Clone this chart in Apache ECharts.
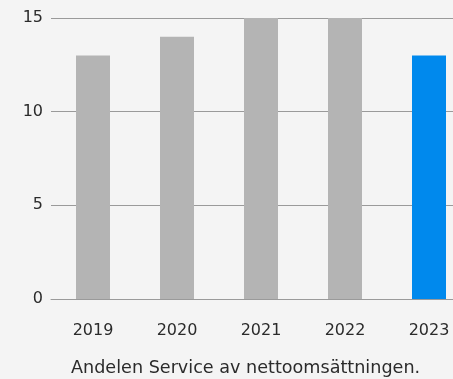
<!DOCTYPE html>
<html>
<head>
<meta charset="utf-8">
<style>
  html, body { margin: 0; padding: 0; background: #f4f4f4; }
  #chart { width: 453px; height: 379px; }
</style>
<script src="https://cdn.jsdelivr.net/npm/echarts@6/dist/echarts.min.js"></script>
</head>
<body>
<div id="chart"></div>
<script>
// Service share of net sales, per year (percent)
const years = ['2019', '2020', '2021', '2022', '2023'];
const shares = [13, 14, 15, 15, 13];
const yTicks = [0, 5, 10, 15];
const caption = 'Andelen Service av nettoomsättningen.';

const grey = '#b4b4b4';
const blue = '#0089ed';
const textColor = '#2b2b2b';
const font = '"DejaVu Sans", sans-serif';

const chart = echarts.init(document.getElementById('chart'), null, { renderer: 'canvas' });

chart.setOption({
  backgroundColor: '#f4f4f4',
  animation: false,
  grid: { left: 51, top: 18, right: -18, bottom: 80, outerBoundsMode: 'none', containLabel: false },
  title: {
    text: caption,
    left: 66,
    bottom: -3,
    textStyle: { fontFamily: font, fontSize: 17.6, fontWeight: 'normal', color: textColor }
  },
  xAxis: {
    type: 'category',
    data: years,
    axisTick: { show: false },
    axisLine: { lineStyle: { color: '#9a9a9a', width: 1 } },
    axisLabel: { color: textColor, fontFamily: font, fontSize: 16, margin: 24 }
  },
  yAxis: {
    type: 'value',
    min: yTicks[0],
    max: yTicks[yTicks.length - 1],
    interval: yTicks[1] - yTicks[0],
    axisLine: { show: false },
    axisTick: { show: false },
    splitLine: { lineStyle: { color: '#9a9a9a', width: 1 } },
    axisLabel: { color: textColor, fontFamily: font, fontSize: 16, margin: 8 }
  },
  series: [{
    type: 'bar',
    data: shares.map((v, i) => ({
      value: v,
      itemStyle: { color: i === shares.length - 1 ? blue : grey }
    })),
    barWidth: 34
  }]
});
</script>
</body>
</html>
